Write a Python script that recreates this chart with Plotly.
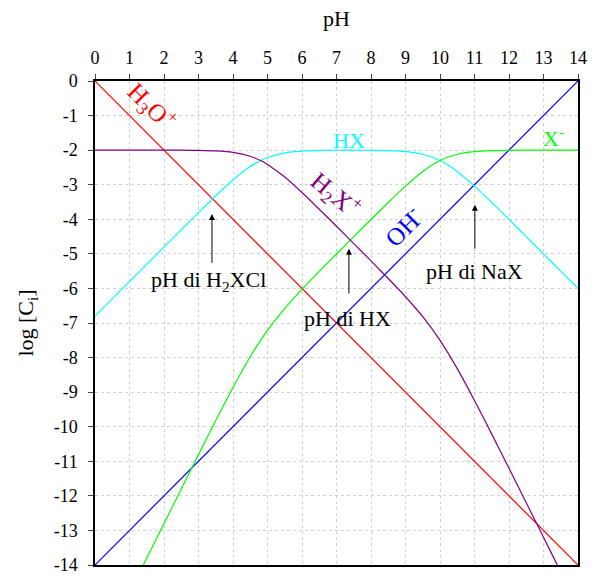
import plotly.graph_objects as go

# pH grid for the species curves
ph = [0, 0.5, 1, 1.5, 2, 2.5, 3, 3.5, 4, 4.5, 4.8, 5, 5.5, 6, 6.5, 7, 7.5,
      8, 8.5, 9, 9.5, 10, 10.5, 11, 11.5, 12, 12.5, 13, 13.5, 14]

# log concentrations of the three acid/base forms
log_h2x = [-2.0, -2.0, -2.0, -2.0, -2.001, -2.002, -2.007, -2.021, -2.064, -2.176, -2.301,
           -2.413, -2.779, -3.227, -3.709, -4.203, -4.702, -5.205, -5.714, -6.241, -6.819,
           -7.501, -8.319, -9.241, -10.214, -11.204, -12.201, -13.2, -14.2, -15.2]
log_hx = [-6.8, -6.3, -5.8, -5.3, -4.801, -4.302, -3.807, -3.321, -2.864, -2.476, -2.301,
          -2.213, -2.079, -2.027, -2.009, -2.003, -2.002, -2.005, -2.014, -2.041, -2.119,
          -2.301, -2.619, -3.041, -3.514, -4.004, -4.501, -5.0, -5.5, -6.0]
log_x = [-16.8, -15.8, -14.8, -13.8, -12.801, -11.802, -10.807, -9.821, -8.864, -7.976, -7.501,
         -7.213, -6.579, -6.027, -5.509, -5.003, -4.502, -4.005, -3.514, -3.041, -2.619,
         -2.301, -2.119, -2.041, -2.014, -2.004, -2.001, -2.0, -2.0, -2.0]

# water ions
ph_ends = [0, 14]
log_h3o = [0, -14]
log_oh = [-14, 0]

x_ticks = list(range(0, 15))
y_ticks = list(range(0, -15, -1))
y_tick_text = [str(v) for v in y_ticks]

FONT = "Liberation Serif, Times New Roman, serif"

fig = go.Figure()
fig.add_trace(go.Scatter(x=ph_ends, y=log_h3o, mode="lines", line=dict(color="#ff0000", width=1.2)))
fig.add_trace(go.Scatter(x=ph_ends, y=log_oh, mode="lines", line=dict(color="#0000ff", width=1.2)))
fig.add_trace(go.Scatter(x=ph, y=log_hx, mode="lines", line=dict(color="#00ffff", width=1.2, shape="spline", smoothing=0.6)))
fig.add_trace(go.Scatter(x=ph, y=log_x, mode="lines", line=dict(color="#00ff00", width=1.2, shape="spline", smoothing=0.6)))
fig.add_trace(go.Scatter(x=ph, y=log_h2x, mode="lines", line=dict(color="#800080", width=1.2, shape="spline", smoothing=0.6)))

# species labels
labels = [
    (1.65, -0.75, "H<sub>3</sub>O<sup>+</sup>", "#ff0000", 45, 25),
    (7.36, -1.72, "HX", "#00ffff", 0, 22),
    (13.3, -1.62, "X<sup>-</sup>", "#00ff00", 0, 22),
    (6.98, -3.3, "H<sub>2</sub>X<sup>+</sup>", "#800080", 40, 25),
    (8.93, -4.2, "OH<sup>-</sup>", "#0000ff", -45, 25),
]
for x, y, t, c, ang, sz in labels:
    fig.add_annotation(x=x, y=y, text=t, showarrow=False, textangle=ang,
                       font=dict(color=c, size=sz, family=FONT))

# solution pH markers
notes = [
    (3.28, -5.79, "pH di H<sub>2</sub>XCl", 3.39, -5.3, -3.85),
    (7.33, -6.86, "pH di HX", 7.36, -6.19, -4.85),
    (11.01, -5.52, "pH di NaX", 11.01, -4.89, -3.58),
]
for x, y, t, ax_, y0, y1 in notes:
    fig.add_annotation(x=x, y=y, text=t, showarrow=False,
                       font=dict(color="black", size=22, family=FONT))
    fig.add_annotation(x=ax_, y=y1, ax=ax_, ay=y0, axref="x", ayref="y",
                       text="", showarrow=True, arrowhead=2, arrowsize=1.2,
                       arrowwidth=1, arrowcolor="black")

fig.update_layout(
    width=597, height=579,
    margin=dict(l=95, r=19, t=81, b=14),
    paper_bgcolor="white", plot_bgcolor="white",
    showlegend=False,
    font=dict(family=FONT, color="black", size=18),
    xaxis=dict(range=[0, 14], side="top", tickvals=x_ticks, ticks="outside", ticklen=5,
               showline=True, linecolor="black", linewidth=1.5, mirror=True,
               showgrid=True, gridcolor="#d2d2d2", griddash="dot", gridwidth=1,
               zeroline=False, automargin=False, ticklabelstandoff=3,
               title=dict(text="pH", font=dict(size=22), standoff=15),
               tickfont=dict(size=18)),
    yaxis=dict(range=[-14, 0], tickvals=y_ticks, ticktext=y_tick_text, ticks="outside", ticklen=5,
               showline=True, linecolor="black", linewidth=1.5, mirror=True,
               showgrid=True, gridcolor="#d2d2d2", griddash="dot", gridwidth=1,
               zeroline=False, automargin=False, ticklabelstandoff=7,
               title=dict(text="log [C<sub>i</sub>]", font=dict(size=22), standoff=14),
               tickfont=dict(size=18)),
)

fig.write_html("out.html")
